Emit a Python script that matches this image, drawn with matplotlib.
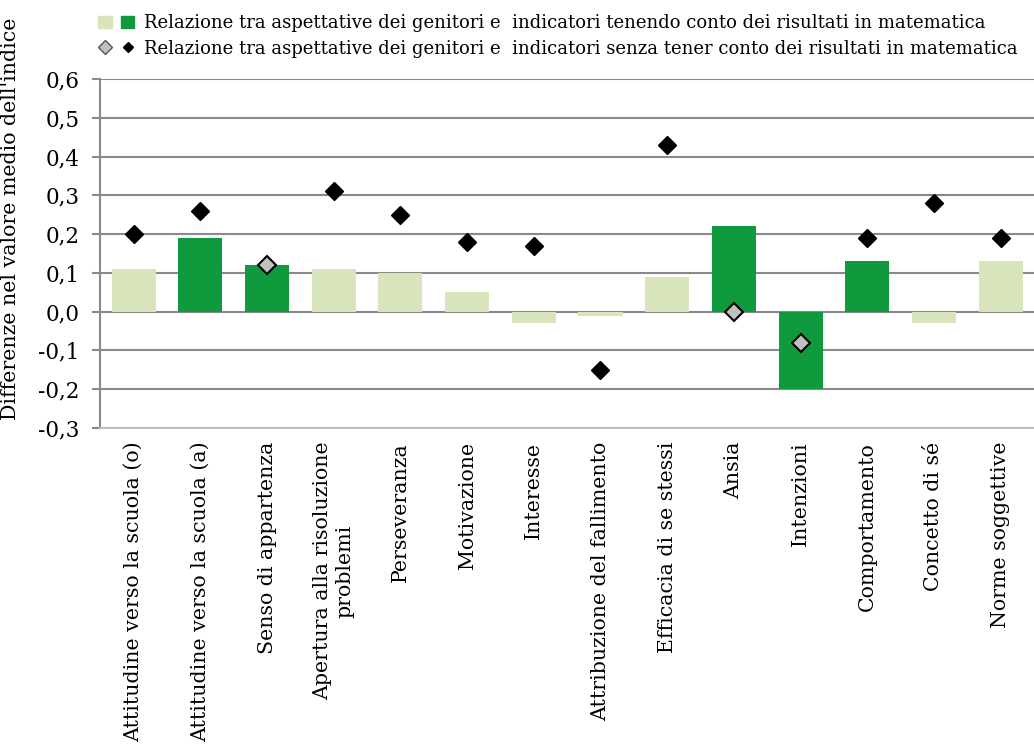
import numpy as np
import matplotlib.pyplot as plt
from matplotlib.patches import Patch
from matplotlib.lines import Line2D
from matplotlib.legend_handler import HandlerTuple
from matplotlib.ticker import FuncFormatter

plt.rcParams['font.family'] = ['DejaVu Serif']

categories = ["Attitudine verso la scuola (o)", "Attitudine verso la scuola (a)",
              "Senso di appartenza", "Apertura alla risoluzione\nproblemi",
              "Perseveranza", "Motivazione", "Interesse",
              "Attribuzione del fallimento", "Efficacia di se stessi", "Ansia",
              "Intenzioni", "Comportamento", "Concetto di sé", "Norme soggettive"]
# con controllo per risultati in matematica (barre)
bar_vals = [0.11, 0.19, 0.12, 0.11, 0.10, 0.05, -0.03, -0.01, 0.09, 0.22,
            -0.20, 0.13, -0.03, 0.13]
bar_signif = [False, True, True, False, False, False, False, False, False, True,
              True, True, False, False]
# senza controllo (rombi)
dot_vals = [0.20, 0.26, 0.12, 0.31, 0.25, 0.18, 0.17, -0.15, 0.43, 0.00,
            -0.08, 0.19, 0.28, 0.19]
dot_grey = [False, False, True, False, False, False, False, False, False, True,
            True, False, False, False]

dark_green = '#0E9A3D'
light_green = '#D8E4BC'

fig = plt.figure(figsize=(10.34, 7.49), dpi=100)
ax = fig.add_axes([0.097, 0.4286, 0.903, 0.466])

x = np.arange(len(categories))
colors = [dark_green if s else light_green for s in bar_signif]
ax.bar(x, bar_vals, width=0.66, color=colors, zorder=2)

for xi, v, g in zip(x, dot_vals, dot_grey):
    if g:
        ax.plot(xi, v, marker='D', ms=9, mfc='#C0C0C0', mec='black', mew=1.5,
                ls='none', zorder=3)
    else:
        ax.plot(xi, v, marker='D', ms=9, mfc='black', mec='black',
                ls='none', zorder=3)

ax.set_xlim(-0.5, len(categories) - 0.5)
ax.set_ylim(-0.3, 0.6)
ax.set_yticks(np.arange(-0.3, 0.61, 0.1))
ax.yaxis.set_major_formatter(FuncFormatter(lambda v, p: f"{v:.1f}".replace('.', ',').replace('-0,0', '0,0')))
ax.grid(axis='y', color='#898989', lw=1.5, zorder=1)
ax.set_axisbelow(True)

for s in ['top', 'right']:
    ax.spines[s].set_visible(False)
ax.spines['left'].set_color('#898989')
ax.spines['left'].set_linewidth(1.5)
ax.spines['bottom'].set_color('#BFBFBF')
ax.spines['bottom'].set_linewidth(1.5)
ax.tick_params(axis='y', length=6, width=1.5, color='#898989', labelsize=15.5, pad=9)
ax.tick_params(axis='x', length=0, pad=10)
ax.set_xticks(x)
ax.set_xticklabels(categories, rotation=90, fontsize=14.8, va='top', ha='center',
                   multialignment='center')

ax.set_ylabel("Differenze nel valore medio dell'indice", fontsize=14.8)
ax.yaxis.set_label_coords(-0.086, 0.6)

h1 = (Patch(color=light_green), Patch(color=dark_green))
h2 = (Line2D([], [], marker='D', ms=7.5, mfc='#C0C0C0', mec='#555555', ls='none'),
      Line2D([], [], marker='D', ms=5, mfc='black', mec='black', ls='none'))
fig.legend([h1, h2],
           ["Relazione tra aspettative dei genitori e  indicatori tenendo conto dei risultati in matematica",
            "Relazione tra aspettative dei genitori e  indicatori senza tener conto dei risultati in matematica"],
           handler_map={tuple: HandlerTuple(ndivide=None, pad=0.5)},
           loc='upper left', bbox_to_anchor=(0.095, 0.981), frameon=False,
           fontsize=13.0, handlelength=2.0, handletextpad=0.55, labelspacing=0.42,
           borderpad=0, borderaxespad=0)

fig.savefig('out.png', dpi=100)
